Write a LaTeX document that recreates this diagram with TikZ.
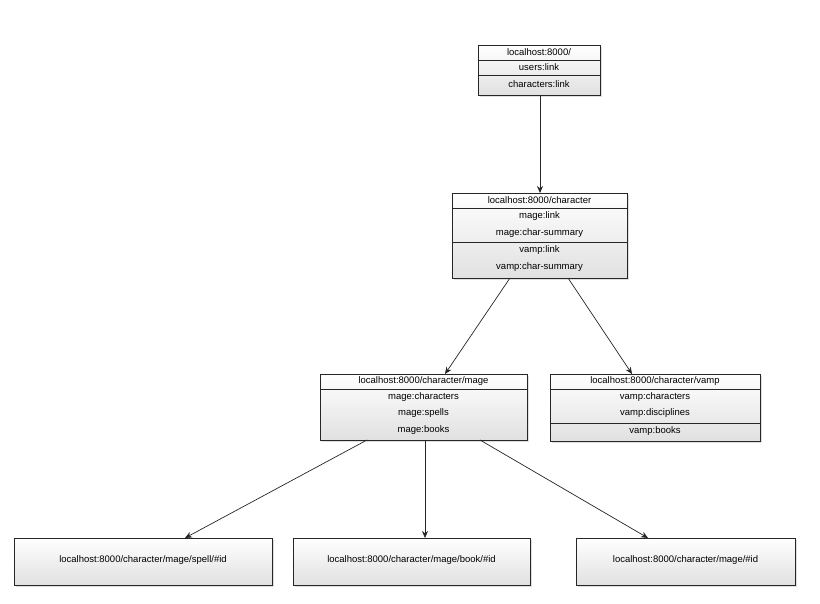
\documentclass[tikz,border=0pt]{standalone}
\usepackage{fontspec}
\setmainfont{Liberation Sans}
\usetikzlibrary{shadows,arrows.meta}
\begin{document}
\begin{tikzpicture}[x=1pt,y=-1pt,
  box/.style={draw=black!85,line width=0.8pt,top color=white,bottom color=black!12,
    drop shadow={shadow xshift=2pt,shadow yshift=-2pt,opacity=0.25}},
  sep/.style={draw=black!85,line width=0.7pt},
  txt/.style={font=\fontsize{9.5}{11}\selectfont,inner sep=0pt},
  arr/.style={draw=black!85,line width=0.7pt,-{Stealth[length=7pt,width=6pt]}}]
\useasboundingbox (0,0) rectangle (820,604);
\fill[white] (0,0) rectangle (820,604);
% boxes
\node[box,minimum width=122pt,minimum height=50pt,anchor=north west] (root) at (478,45) {};
\draw[sep] (478,60) -- (600,60) (478,75) -- (600,75);
\node[txt] at (539,52.5) {localhost:8000/};
\node[txt] at (539,67.5) {users:link};
\node[txt] at (539,84) {characters:link};

\node[box,minimum width=175pt,minimum height=85pt,anchor=north west] (chr) at (452,193) {};
\draw[sep] (452,208) -- (627,208) (452,242) -- (627,242);
\node[txt] at (539.5,200.5) {localhost:8000/character};
\node[txt] at (539.5,216) {mage:link};
\node[txt] at (539.5,233) {mage:char-summary};
\node[txt] at (539.5,250) {vamp:link};
\node[txt] at (539.5,267) {vamp:char-summary};

\node[box,minimum width=207pt,minimum height=66pt,anchor=north west] (mage) at (320,374) {};
\draw[sep] (320,389) -- (527,389);
\node[txt] at (423.5,381.5) {localhost:8000/character/mage};
\node[txt] at (423.5,397) {mage:characters};
\node[txt] at (423.5,413) {mage:spells};
\node[txt] at (423.5,430) {mage:books};

\node[box,minimum width=210pt,minimum height=67pt,anchor=north west] (vamp) at (550,374) {};
\draw[sep] (550,389) -- (760,389) (550,423) -- (760,423);
\node[txt] at (655,381.5) {localhost:8000/character/vamp};
\node[txt] at (655,397) {vamp:characters};
\node[txt] at (655,413) {vamp:disciplines};
\node[txt] at (655,431.5) {vamp:books};

\node[box,minimum width=258pt,minimum height=47pt,anchor=north west] (spell) at (14,538) {};
\node[txt] at (143,560) {localhost:8000/character/mage/spell/\#id};
\node[box,minimum width=237pt,minimum height=47pt,anchor=north west] (book) at (293,538) {};
\node[txt] at (411.5,560) {localhost:8000/character/mage/book/\#id};
\node[box,minimum width=219pt,minimum height=47pt,anchor=north west] (mid) at (576,538) {};
\node[txt] at (685.5,560) {localhost:8000/character/mage/\#id};
% arrows
\coordinate (r0) at (540,95); \coordinate (c0) at (540,193);
\draw[arr] (r0) -- (c0);
\coordinate (c1) at (510,278); \coordinate (m0) at (445,374);
\coordinate (c2) at (568,278); \coordinate (v0) at (632,374);
\draw[arr] (c1) -- (m0);
\draw[arr] (c2) -- (v0);
\coordinate (m1) at (367,440); \coordinate (s0) at (185,538);
\coordinate (m2) at (425,440); \coordinate (b0) at (425,538);
\coordinate (m3) at (480,440); \coordinate (i0) at (648,538);
\draw[arr] (m1) -- (s0);
\draw[arr] (m2) -- (b0);
\draw[arr] (m3) -- (i0);
\end{tikzpicture}
\end{document}
